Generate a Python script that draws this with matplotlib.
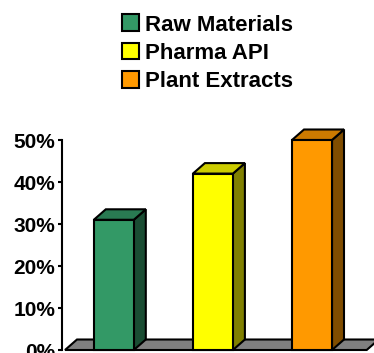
import matplotlib
matplotlib.use("Agg")
import matplotlib.pyplot as plt
from matplotlib.patches import Polygon, Patch
from matplotlib.ticker import FuncFormatter

categories = ["Raw Materials", "Pharma API", "Plant Extracts"]
values = [31, 42, 50]
front_colors = ["#339966", "#ffff00", "#ff9900"]
top_colors = ["#297a52", "#cccc00", "#cc7a00"]
side_colors = ["#1a4d33", "#808000", "#804d00"]
yticks = [0, 10, 20, 30, 40, 50]

W, H = 374, 353
dpi = 100
fig = plt.figure(figsize=(W / dpi, H / dpi), dpi=dpi)
plt.rcParams['font.family'] = ['Liberation Sans', 'DejaVu Sans']

left_px, right_px, bottom_px, top_px = 62, 374, 350, 140
ax = fig.add_axes([left_px / W, (H - bottom_px) / H,
                   (right_px - left_px) / W, (bottom_px - top_px) / H])

spacing_px = 99.1
xmin = -(113.8 - left_px) / spacing_px
xmax = xmin + (right_px - left_px) / spacing_px
ax.set_xlim(xmin, xmax)
ax.set_ylim(0, 50)

px_per_pct = (bottom_px - top_px) / 50.0
dx = 12 / spacing_px
dy = 10.5 / px_per_pct
bw = 40 / spacing_px
lw = 1.5

# floor
fx0, fx1 = xmin + 3 / spacing_px, xmin + (366.7 - left_px) / spacing_px
floor = Polygon([(fx0, 0), (fx1, 0), (fx1 + dx, dy), (fx0 + dx, dy)],
                closed=True, facecolor="#808080", edgecolor="black",
                linewidth=lw, clip_on=False, zorder=1, joinstyle="miter")
ax.add_patch(floor)

xs = list(range(len(categories)))
ax.bar(xs, values, width=bw, color=front_colors, edgecolor="black",
       linewidth=lw, zorder=3, clip_on=False)
for x, v, tc, sc in zip(xs, values, top_colors, side_colors):
    l, r = x - bw / 2, x + bw / 2
    top = Polygon([(l, v), (r, v), (r + dx, v + dy), (l + dx, v + dy)],
                  closed=True, facecolor=tc, edgecolor="black", linewidth=lw,
                  clip_on=False, zorder=2, joinstyle="miter")
    side = Polygon([(r, 0), (r + dx, dy), (r + dx, v + dy), (r, v)],
                   closed=True, facecolor=sc, edgecolor="black", linewidth=lw,
                   clip_on=False, zorder=2, joinstyle="miter")
    ax.add_patch(side)
    ax.add_patch(top)

for s in ["top", "right", "bottom"]:
    ax.spines[s].set_visible(False)
ax.spines["left"].set_linewidth(lw)
ax.spines["left"].set_zorder(4)
ax.set_xticks([])
ax.set_yticks(yticks)
ax.yaxis.set_major_formatter(FuncFormatter(lambda v, p: f"{int(v)}%"))
ax.tick_params(axis="y", length=3, width=lw, pad=2, labelsize=15)
for t in ax.get_yticklabels():
    t.set_fontweight("bold")
ax.patch.set_alpha(0)

handles = [Patch(facecolor=c, edgecolor="black", linewidth=lw) for c in front_colors]
leg = fig.legend(handles, categories, loc="upper left",
                 bbox_to_anchor=(122 / W, 1 - 14.5 / H), frameon=False,
                 prop={"weight": "bold", "size": 16}, borderpad=0,
                 borderaxespad=0, handlelength=0.77, handleheight=0.77,
                 handletextpad=0.27, labelspacing=0.33)

fig.savefig("out.png", dpi=dpi)
